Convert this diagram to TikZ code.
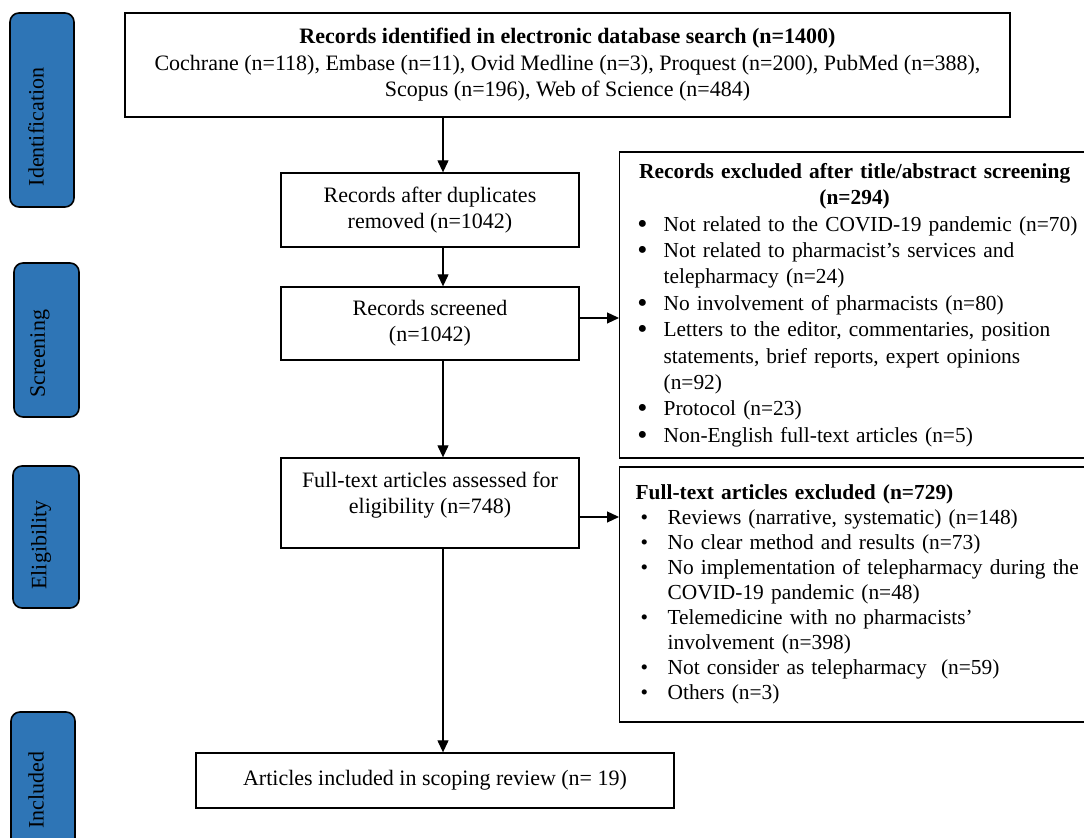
\documentclass[tikz,border=0pt]{standalone}
\usepackage{fontspec}
\setmainfont{Liberation Serif}
\usetikzlibrary{arrows.meta}
\definecolor{sideblue}{RGB}{46,117,182}
\newcommand\bia{\makebox[13.5pt][l]{\hspace{0.3pt}\raisebox{-1pt}{\scalebox{1.35}{\textbullet}}}}
\newcommand\cia{\hspace*{13.5pt}}
\newcommand\bib{\makebox[16pt][l]{\hspace{2.5pt}\textbullet}}
\newcommand\cib{\hspace*{16pt}}
\begin{document}
\begin{tikzpicture}[x=0.5pt,y=-0.5pt,
  box/.style={draw, line width=0.65pt, inner sep=0pt, align=center},
  sidebox/.style={draw, line width=0.8pt, fill=sideblue, rounded corners=4.5pt, inner sep=0pt},
  sidetext/.style={rotate=90, inner sep=0pt},
  arr/.style={line width=0.6pt, -{Triangle[length=6pt,width=5.5pt]}},
  font=\fontsize{11}{13.2}\selectfont]
\useasboundingbox (0,0) rectangle (1084,838);
\clip (0,0) rectangle (1084,838);

% side labels
\node[sidebox, minimum height=97pt, minimum width=32pt] (sid) at (42,110) {};
\node[sidetext] (tid) at (36,127) {Identification};
\node[sidebox, minimum height=77pt, minimum width=32.5pt] (sscr) at (46.5,340) {};
\node[sidetext] (tscr) at (40,354) {Screening};
\node[sidebox, minimum height=71pt, minimum width=33pt] (sel) at (46,537) {};
\node[sidetext] (tel) at (41,545) {Eligibility};
\node[sidebox, minimum height=74pt, minimum width=32pt] (sinc) at (43,786) {};
\node[sidetext] (tinc) at (36,790) {Included};

% main boxes
\node[box, minimum width=442.5pt, minimum height=52pt] (top) at (567.5,65)
  {\textbf{Records identified in electronic database search (n=1400)}\\
   Cochrane (n=118), Embase (n=11), Ovid Medline (n=3), Proquest (n=200), PubMed (n=388),\\
   Scopus (n=196), Web of Science (n=484)};
\node[box, minimum width=149pt, minimum height=37pt] (dup) at (430,210)
  {Records after duplicates\\ removed (n=1042)};
\node[box, minimum width=149pt, minimum height=36.5pt] (scr) at (430,323.5)
  {Records screened\\ (n=1042)};
\node[box, minimum width=149pt, minimum height=45pt] (full) at (430,503)
  {Full-text articles assessed for\\ eligibility (n=748)\\[-7pt]\strut};
\node[box, minimum width=239pt, minimum height=27.5pt] (incl) at (435,780.5)
  {Articles included in scoping review (n= 19)};

% exclusion boxes
\node[box, align=left, text width=240pt, inner xsep=8.5pt, minimum height=153pt, anchor=west,
      font=\fontsize{10.7}{13.2}\selectfont] (ex1) at (619,305)
  {\makebox[218pt][c]{\textbf{Records excluded after title/abstract screening}}\\
   \makebox[218pt][c]{\textbf{(n=294)}}\\
   \bia Not related to the COVID-19 pandemic (n=70)\\
   \bia Not related to pharmacist’s services and\\
   \cia telepharmacy (n=24)\\
   \bia No involvement of pharmacists (n=80)\\
   \bia Letters to the editor, commentaries, position\\
   \cia statements, brief reports, expert opinions\\
   \cia (n=92)\\
   \bia Protocol (n=23)\\
   \bia Non-English full-text articles (n=5)};
\node[box, align=left, text width=240pt, inner xsep=8pt, minimum height=127.5pt, anchor=west,
      font=\fontsize{10.7}{12.5}\selectfont] (ex2) at (619,594.5)
  {\textbf{Full-text articles excluded (n=729)}\\
   \bib Reviews (narrative, systematic) (n=148)\\
   \bib No clear method and results (n=73)\\
   \bib No implementation of telepharmacy during the\\
   \cib COVID-19 pandemic (n=48)\\
   \bib Telemedicine with no pharmacists’\\
   \cib involvement (n=398)\\
   \bib Not consider as telepharmacy\ \ (n=59)\\
   \bib Others (n=3)};

% connectors
\coordinate (xa) at (443,0);
\coordinate (ya) at (0,318);
\coordinate (yb) at (0,517);
\draw[arr] (top.south -| xa) -- (dup.north -| xa);
\draw[arr] (dup.south -| xa) -- (scr.north -| xa);
\draw[arr] (scr.south -| xa) -- (full.north -| xa);
\draw[arr] (full.south -| xa) -- (incl.north -| xa);
\draw[arr] (scr.east |- ya) -- (ex1.west |- ya);
\draw[arr] (full.east |- yb) -- (ex2.west |- yb);
\end{tikzpicture}
\end{document}
